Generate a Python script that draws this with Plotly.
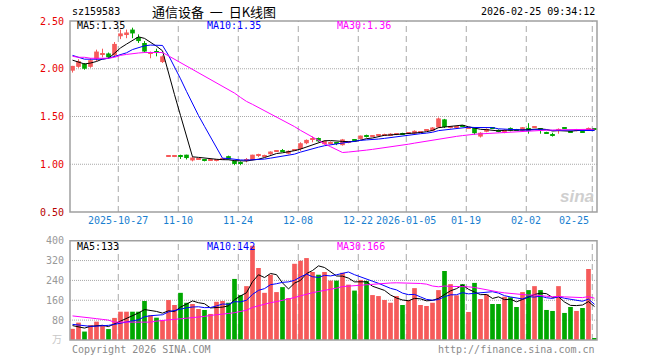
import plotly.graph_objects as go

# ---------------- data ----------------
dates = [
    "2025-10-15", "2025-10-16", "2025-10-17", "2025-10-20", "2025-10-21", "2025-10-22", "2025-10-23", "2025-10-24",
    "2025-10-27", "2025-10-28", "2025-10-29", "2025-10-30", "2025-10-31",
    "2025-11-03", "2025-11-04", "2025-11-05", "2025-11-06", "2025-11-07", "2025-11-10", "2025-11-11", "2025-11-12",
    "2025-11-13", "2025-11-14", "2025-11-17", "2025-11-18", "2025-11-19", "2025-11-20", "2025-11-21", "2025-11-24",
    "2025-11-25", "2025-11-26", "2025-11-27", "2025-11-28",
    "2025-12-01", "2025-12-02", "2025-12-03", "2025-12-04", "2025-12-05", "2025-12-08", "2025-12-09", "2025-12-10",
    "2025-12-11", "2025-12-12", "2025-12-15", "2025-12-16", "2025-12-17", "2025-12-18", "2025-12-19", "2025-12-22",
    "2025-12-23", "2025-12-24", "2025-12-25", "2025-12-26", "2025-12-29", "2025-12-30", "2025-12-31",
    "2026-01-05", "2026-01-06", "2026-01-07", "2026-01-08", "2026-01-09", "2026-01-12", "2026-01-13", "2026-01-14",
    "2026-01-15", "2026-01-16", "2026-01-19", "2026-01-20", "2026-01-21", "2026-01-22", "2026-01-23", "2026-01-26",
    "2026-01-27", "2026-01-28", "2026-01-29", "2026-01-30",
    "2026-02-02", "2026-02-03", "2026-02-04", "2026-02-05", "2026-02-06", "2026-02-09", "2026-02-10", "2026-02-11",
    "2026-02-12", "2026-02-13", "2026-02-24", "2026-02-25",
]

opens = [1.98, 2.02, 2.05, 2.02, 2.10, 2.15, 2.16, 2.14, 2.34, 2.36, 2.41, 2.33, 2.27, 2.16, 2.18, 2.07,
         1.085, 1.08, 1.09, 1.10, 1.04, 1.055, 1.05, 1.04, 1.04, 1.05, 1.085, 1.035, 1.02, 1.045, 1.045, 1.09,
         1.09, 1.105, 1.135, 1.145, 1.11, 1.15, 1.16, 1.22, 1.265, 1.275, 1.21, 1.225, 1.225, 1.20, 1.228, 1.25,
         1.265, 1.30, 1.292, 1.305, 1.308, 1.30, 1.313, 1.322, 1.328, 1.32, 1.338, 1.356, 1.35, 1.385, 1.47,
         1.388, 1.388, 1.402, 1.383, 1.38, 1.29, 1.34, 1.382, 1.36, 1.33, 1.38, 1.362, 1.35, 1.38, 1.385, 1.372,
         1.335, 1.312, 1.35, 1.382, 1.345, 1.358, 1.342, 1.36, 1.372]
highs = [2.03, 2.10, 2.06, 2.11, 2.20, 2.21, 2.17, 2.28, 2.41, 2.41,
         2.43, 2.36, 2.29, 2.18, 2.21, 2.14, 1.095, 1.09, 1.10, 1.10,
         1.075, 1.065, 1.05, 1.045, 1.045, 1.055, 1.09, 1.04, 1.03, 1.065,
         1.10, 1.11, 1.10, 1.135, 1.145, 1.16, 1.145, 1.16, 1.23, 1.26,
         1.29, 1.28, 1.25, 1.24, 1.23, 1.265, 1.235, 1.26, 1.30, 1.31,
         1.30, 1.315, 1.32, 1.325, 1.32, 1.33, 1.335, 1.355, 1.345, 1.365,
         1.39, 1.49, 1.475, 1.40, 1.395, 1.41, 1.39, 1.385, 1.335, 1.375,
         1.39, 1.365, 1.365, 1.385, 1.37, 1.39, 1.43, 1.395, 1.375, 1.34,
         1.33, 1.375, 1.39, 1.35, 1.37, 1.35, 1.385, 1.375]
lows = [1.96, 2.01, 1.99, 2.01, 2.08, 2.12, 2.11, 2.13, 2.31, 2.32,
        2.32, 2.27, 2.17, 2.11, 2.13, 2.06, 1.08, 1.075, 1.055, 1.05,
        1.03, 1.05, 1.03, 1.035, 1.03, 1.045, 1.05, 0.99, 0.99, 1.02,
        1.04, 1.075, 1.08, 1.10, 1.13, 1.13, 1.105, 1.145, 1.14, 1.21,
        1.23, 1.235, 1.205, 1.22, 1.20, 1.195, 1.22, 1.24, 1.26, 1.28,
        1.285, 1.30, 1.30, 1.295, 1.305, 1.31, 1.32, 1.315, 1.33, 1.35,
        1.345, 1.38, 1.38, 1.375, 1.37, 1.39, 1.375, 1.31, 1.28, 1.335,
        1.37, 1.335, 1.325, 1.345, 1.355, 1.345, 1.32, 1.38, 1.32, 1.32,
        1.29, 1.32, 1.37, 1.33, 1.345, 1.33, 1.355, 1.36]
closes = [2.03, 2.08, 2.00, 2.09, 2.18, 2.16, 2.12, 2.26, 2.37, 2.38,
          2.37, 2.29, 2.18, 2.17, 2.17, 2.13, 1.09, 1.085, 1.08, 1.065,
          1.07, 1.06, 1.045, 1.042, 1.042, 1.052, 1.052, 1.003, 1.015, 1.05,
          1.10, 1.095, 1.092, 1.133, 1.14, 1.14, 1.14, 1.155, 1.22, 1.255,
          1.27, 1.24, 1.245, 1.23, 1.22, 1.26, 1.232, 1.248, 1.30, 1.298,
          1.296, 1.31, 1.312, 1.32, 1.316, 1.32, 1.332, 1.35, 1.342, 1.36,
          1.385, 1.48, 1.39, 1.392, 1.392, 1.398, 1.387, 1.325, 1.33, 1.37,
          1.378, 1.34, 1.36, 1.35, 1.36, 1.388, 1.35, 1.39, 1.362, 1.33,
          1.31, 1.37, 1.378, 1.34, 1.362, 1.34, 1.38, 1.365]
volumes = [45, 70, 34, 60, 74, 58, 44, 89, 114, 114,
           114, 114, 157, 100, 90, 80, 161, 141, 190, 150,
           145, 125, 121, 105, 154, 157, 150, 246, 181, 217,
           380, 290, 190, 263, 193, 213, 169, 307, 319, 330,
           274, 263, 274, 239, 239, 271, 223, 199, 242, 238,
           181, 177, 161, 150, 177, 141, 161, 209, 141, 137,
           150, 201, 278, 225, 180, 225, 113, 230, 165, 184,
           145, 145, 174, 172, 133, 193, 201, 217, 201, 121,
           117, 217, 109, 133, 117, 129, 286, 8]

ma5 = [2.09, 2.07, 2.05, 2.06, 2.076, 2.102, 2.11, 2.162, 2.218, 2.258,
       2.30, 2.334, 2.318, 2.278, 2.236, 2.188, 1.948, 1.729, 1.511, 1.29,
       1.078, 1.072, 1.064, 1.056, 1.052, 1.048, 1.047, 1.038, 1.033, 1.034,
       1.044, 1.053, 1.070, 1.094, 1.112, 1.12, 1.129, 1.142, 1.159, 1.182,
       1.208, 1.228, 1.246, 1.248, 1.241, 1.239, 1.237, 1.238, 1.252, 1.268,
       1.275, 1.290, 1.303, 1.307, 1.311, 1.316, 1.32, 1.328, 1.332, 1.341,
       1.354, 1.383, 1.391, 1.401, 1.408, 1.410, 1.392, 1.379, 1.366, 1.362,
       1.358, 1.349, 1.356, 1.360, 1.358, 1.360, 1.362, 1.368, 1.370, 1.364,
       1.348, 1.352, 1.350, 1.346, 1.352, 1.358, 1.360, 1.357]
ma10 = [2.14, 2.12, 2.10, 2.10, 2.10, 2.10, 2.11, 2.13, 2.15, 2.167,
        2.201, 2.222, 2.24, 2.248, 2.247, 2.244, 2.141, 2.024, 1.895, 1.763,
        1.633, 1.51, 1.397, 1.284, 1.171, 1.063, 1.060, 1.051, 1.045, 1.043,
        1.046, 1.05, 1.054, 1.064, 1.073, 1.082, 1.091, 1.106, 1.127, 1.147,
        1.164, 1.179, 1.194, 1.204, 1.212, 1.224, 1.233, 1.242, 1.25, 1.255,
        1.257, 1.264, 1.271, 1.280, 1.290, 1.296, 1.305, 1.316, 1.320, 1.326,
        1.335, 1.352, 1.360, 1.367, 1.375, 1.382, 1.388, 1.385, 1.384, 1.385,
        1.384, 1.371, 1.368, 1.363, 1.36, 1.359, 1.356, 1.362, 1.365, 1.361,
        1.354, 1.357, 1.359, 1.358, 1.358, 1.353, 1.356, 1.354]
ma30 = [2.13, 2.12, 2.12, 2.11, 2.11, 2.11, 2.11, 2.12, 2.14, 2.15,
        2.16, 2.165, 2.17, 2.17, 2.175, 2.17, 2.135, 2.10, 2.065, 2.03,
        1.995, 1.96, 1.925, 1.89, 1.855, 1.82, 1.78, 1.745, 1.70, 1.658,
        1.627, 1.594, 1.564, 1.532, 1.497, 1.463, 1.430, 1.394, 1.355, 1.318,
        1.281, 1.246, 1.215, 1.184, 1.152, 1.123, 1.128, 1.133, 1.140, 1.148,
        1.156, 1.164, 1.173, 1.182, 1.191, 1.200, 1.210, 1.221, 1.232, 1.242,
        1.252, 1.265, 1.275, 1.283, 1.292, 1.300, 1.309, 1.314, 1.318, 1.322,
        1.325, 1.329, 1.332, 1.336, 1.341, 1.345, 1.349, 1.354, 1.356, 1.357,
        1.358, 1.360, 1.362, 1.363, 1.364, 1.365, 1.366, 1.367]
vma5 = [58, 53, 48, 55, 56.6, 59.2, 54, 65, 75.8, 83.8,
        95, 109, 122.6, 119.8, 115, 108.2, 117.6, 114.4, 132.4, 144.4,
        157.4, 150.2, 146.2, 129.2, 130, 132.4, 137.4, 162.4, 177.6, 190.2,
        234.8, 262.8, 251.6, 268, 263.2, 229.8, 205.6, 229, 240.2, 267.6,
        279.8, 298.6, 292, 276, 257.8, 257.2, 249.2, 234.2, 234.8, 234.6,
        216.6, 207.4, 199.8, 181.4, 169.2, 161.2, 158, 167.6, 165.8, 157.8,
        159.6, 167.6, 181.4, 198.2, 206.8, 221.8, 204.2, 194.6, 182.6, 183.4,
        167.4, 173.8, 162.6, 164, 153.8, 163.4, 174.6, 183.2, 189, 186.6,
        171.4, 174.6, 153, 139.4, 138.6, 141, 154.8, 134.6]
vma10 = [63, 60, 56, 55, 56, 57, 59, 63, 67, 70.2,
         77.1, 81.5, 93.8, 97.8, 99.4, 101.6, 113.3, 118.5, 126.1, 129.7,
         132.8, 133.9, 130.3, 130.8, 137.2, 144.9, 143.8, 154.3, 153.4, 160.1,
         183.6, 200.1, 207, 222.8, 226.7, 232.3, 234.2, 240.3, 254.1, 265.4,
         254.8, 252.1, 260.5, 258.1, 262.7, 268.5, 273.9, 263.1, 255.4, 246.2,
         236.9, 228.3, 217, 208.1, 201.9, 188.9, 182.7, 183.7, 173.6, 163.5,
         160.4, 162.8, 174.5, 182, 182.3, 190.7, 185.9, 188, 190.4, 195.1,
         194.6, 189, 178.6, 173.3, 168.6, 165.4, 174.2, 172.9, 176.5, 170.2,
         167.4, 174.6, 168.1, 164.2, 162.6, 156.2, 164.7, 143.8]
vma30 = [97, 95, 92, 88, 86, 83, 80, 72, 72, 73,
         74, 73, 72, 72, 76, 80, 81, 83, 85, 87,
         89, 91, 95, 99, 101, 104, 107, 110, 115, 120,
         131.2, 138.5, 143.7, 150.5, 154.4, 159.6, 163.8, 171, 177.9, 185.1,
         190.4, 195.4, 199.3, 203.9, 208.9, 215.2, 217.3, 219.2, 221, 223.9,
         225.1, 226.8, 228.2, 229.7, 230.4, 229.9, 230.3, 229, 227.7, 225,
         217.4, 214.4, 217.3, 216.1, 215.6, 216, 214.2, 211.6, 206.5, 201.6,
         197.3, 193.4, 190, 187.8, 184.3, 181.7, 180.9, 181.5, 180.2, 176.3,
         174.1, 175.5, 173.7, 173.2, 171.2, 170.8, 174.9, 168.2]

grid_dates = ["2025-10-27", "2025-11-10", "2025-11-24", "2025-12-08", "2025-12-22",
              "2026-01-05", "2026-01-19", "2026-02-02", "2026-02-25"]
x_tick_labels = ["2025-10-27", "11-10", "11-24", "12-08", "12-22", "2026-01-05", "01-19", "02-02", "02-25"]
price_ticks = [2.50, 2.00, 1.50, 1.00, 0.50]
price_tick_labels = ["2.50", "2.00", "1.50", "1.00", "0.50"]
vol_ticks = [400, 320, 240, 160, 80]
vol_tick_labels = ["400", "320", "240", "160", "80"]
price_legend = ["MA5:1.35", "MA10:1.35", "MA30:1.36"]
vol_legend = ["MA5:133", "MA10:142", "MA30:166"]

# ---------------- styles ----------------
RED = "#f65a5a"
GREEN = "#00a800"
MA_COLORS = ["#000000", "#0000ff", "#ff00ff"]
MONO = "DejaVu Sans Mono"
FRAME = "#a0a0a0"
GRID = "#a8a8a8"

N = len(dates)
idx = list(range(N))
up = [c >= o for o, c in zip(opens, closes)]
bar_colors = [RED if u else GREEN for u in up]

fig = go.Figure()

# wicks
for flag, col in ((True, RED), (False, GREEN)):
    wx, wy = [], []
    for i in idx:
        if up[i] == flag:
            wx += [i, i, None]
            wy += [lows[i], highs[i], None]
    fig.add_trace(go.Scatter(x=wx, y=wy, mode="lines", line=dict(color=col, width=1),
                             xaxis="x", yaxis="y", hoverinfo="skip"))

# candle bodies
MINH = 0.011
body_base, body_h = [], []
for o, c in zip(opens, closes):
    lo, hi = min(o, c), max(o, c)
    if hi - lo < MINH:
        mid = (o + c) / 2
        lo, hi = mid - MINH / 2, mid + MINH / 2
    body_base.append(lo)
    body_h.append(hi - lo)
fig.add_trace(go.Bar(x=idx, y=body_h, base=body_base, width=0.78,
                     marker=dict(color=bar_colors, line=dict(width=0)),
                     xaxis="x", yaxis="y", hoverinfo="skip"))

# price MAs
for series, col in zip((ma5, ma10, ma30), MA_COLORS):
    fig.add_trace(go.Scatter(x=idx, y=series, mode="lines", line=dict(color=col, width=1),
                             xaxis="x", yaxis="y", hoverinfo="skip"))

# volume bars
fig.add_trace(go.Bar(x=idx, y=volumes, width=0.78,
                     marker=dict(color=bar_colors, line=dict(width=0)),
                     xaxis="x", yaxis="y2", hoverinfo="skip"))
for series, col in zip((vma5, vma10, vma30), MA_COLORS):
    fig.add_trace(go.Scatter(x=idx, y=series, mode="lines", line=dict(color=col, width=1),
                             xaxis="x", yaxis="y2", hoverinfo="skip"))

# ---------------- layout ----------------
L, R, T, B, W, H = 70, 63, 21, 20, 660, 360
PH = H - T - B
def py(p):
    return (H - B - p) / PH

main_dom = [py(212), 1.0]
vol_dom = [0.0, py(240.7)]

shapes = []
gx = [dates.index(d) - 0.37 for d in grid_dates]
for g in gx:
    for yr in ("y domain", "y2 domain"):
        shapes.append(dict(type="line", xref="x", yref=yr, x0=g, x1=g, y0=0, y1=1,
                           line=dict(color=GRID, width=1, dash="6px,4px"), layer="below"))
for v in price_ticks[1:-1]:
    shapes.append(dict(type="line", xref="paper", yref="y", x0=0, x1=1, y0=v, y1=v,
                       line=dict(color=GRID, width=1, dash="1px,1px"), layer="below"))
for v in vol_ticks[1:]:
    shapes.append(dict(type="line", xref="paper", yref="y2", x0=0, x1=1, y0=v, y1=v,
                       line=dict(color=GRID, width=1, dash="1px,1px"), layer="below"))
for yr in ("y domain", "y2 domain"):
    shapes.append(dict(type="rect", xref="paper", yref=yr, x0=0, x1=1, y0=0, y1=1,
                       line=dict(color=FRAME, width=1.5), fillcolor="rgba(0,0,0,0)"))

ann = []
def txt(text, x, y, xref="paper", yref="paper", xanchor="left", color="#000", size=10,
        family=MONO, xshift=0, yanchor="middle"):
    ann.append(dict(text=text, x=x, y=y, xref=xref, yref=yref, xanchor=xanchor, yanchor=yanchor,
                    showarrow=False, xshift=xshift, font=dict(family=family, size=size, color=color)))

# header
txt("sz159583", 0, py(12))
txt("通信设备\u00a0\u00a0一\u00a0\u00a0日K线图", (150 - L) / (W - L - R), py(12),
    family="Noto Sans CJK SC", size=13)
txt("2026-02-25 09:34:12", 1, py(12), xanchor="right")
# legends
for s, col, px in zip(price_legend, MA_COLORS, (75, 205, 335)):
    txt(s, (px - L) / (W - L - R), py(26), color=col)
for s, col, px in zip(vol_legend, MA_COLORS, (75, 205, 335)):
    txt(s, (px - L) / (W - L - R), py(247), color=col)
# y tick labels
for v, s in zip(price_ticks, price_tick_labels):
    txt(s, 0, v, yref="y", xanchor="right", xshift=-4, color="#b80000" if v == 0.5 else "#e80000")
for v, s in zip(vol_ticks, vol_tick_labels):
    txt(s, 0, v, yref="y2", xanchor="right", xshift=-4, color="#999999")
txt("万", 0, py(338), xanchor="right", xshift=-6, color="#c8c8c8", family="Noto Sans CJK SC", size=10)
# x tick labels
for g, s in zip(gx, x_tick_labels):
    if s == x_tick_labels[-1]:
        txt(s, g, py(221), xref="x", xanchor="right", xshift=-1, color="#1a7fd0")
    else:
        txt(s, g, py(221), xref="x", xanchor="center", color="#1a7fd0")
# footer
txt("Copyright 2026 SINA.COM", 0, py(349), xanchor="left", color="#8a8a8a")
txt("http://finance.sina.com.cn", 1, py(349), xanchor="right", color="#8a8a8a")
# watermark
txt("<b><i>sina</i></b>", 1, py(196), xanchor="right", xshift=-1, color="#cfcfcf",
    family="Liberation Sans", size=17)

fig.update_layout(
    width=W, height=H,
    margin=dict(l=L, r=R, t=T, b=B, pad=0),
    paper_bgcolor="white", plot_bgcolor="white",
    showlegend=False, barmode="overlay", hovermode=False,
    xaxis=dict(range=[-0.4167, 87.4167], visible=False, fixedrange=True),
    yaxis=dict(range=[0.5, 2.5], domain=main_dom, visible=False, fixedrange=True),
    yaxis2=dict(range=[0, 400], domain=vol_dom, visible=False, anchor="x", fixedrange=True),
    shapes=shapes, annotations=ann,
)

fig.write_html("out.html", config={"displayModeBar": False},
               post_script="document.body.style.margin='0';document.body.style.overflow='hidden';")
